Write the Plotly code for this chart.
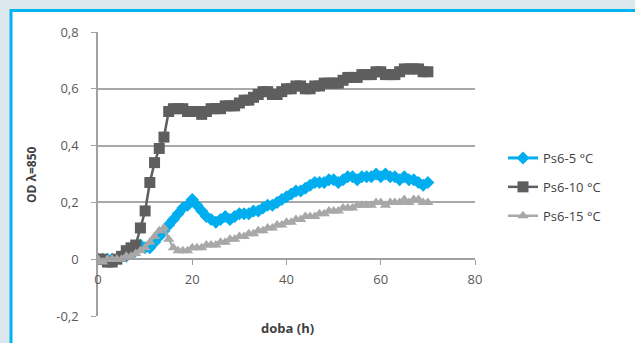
import plotly.graph_objects as go

# Growth curves of Ps6 at three temperatures (optical density over time)
hours = list(range(0, 71))

ps6_5 = [
    0.00, 0.00, 0.00, 0.00, 0.00, 0.01, 0.01, 0.02, 0.03, 0.05,
    0.04, 0.04, 0.06, 0.08, 0.10, 0.12, 0.14, 0.16, 0.18, 0.19,
    0.21, 0.19, 0.17, 0.15, 0.14, 0.13, 0.14, 0.15, 0.14, 0.15,
    0.16, 0.16, 0.16, 0.17, 0.17, 0.18, 0.19, 0.19, 0.20, 0.21,
    0.22, 0.23, 0.24, 0.24, 0.25, 0.26, 0.27, 0.27, 0.27, 0.28,
    0.28, 0.27, 0.28, 0.29, 0.29, 0.28, 0.29, 0.29, 0.29, 0.30,
    0.29, 0.30, 0.29, 0.29, 0.28, 0.29, 0.28, 0.28, 0.27, 0.26,
    0.27,
]

ps6_10 = [
    0.00, 0.00, -0.01, -0.01, 0.00, 0.01, 0.03, 0.04, 0.05, 0.11,
    0.17, 0.27, 0.34, 0.39, 0.43, 0.52, 0.53, 0.53, 0.53, 0.52,
    0.52, 0.52, 0.51, 0.52, 0.53, 0.53, 0.53, 0.54, 0.54, 0.54,
    0.55, 0.56, 0.56, 0.57, 0.58, 0.59, 0.59, 0.58, 0.58, 0.59,
    0.60, 0.60, 0.61, 0.61, 0.60, 0.60, 0.61, 0.61, 0.62, 0.62,
    0.62, 0.62, 0.63, 0.64, 0.64, 0.64, 0.65, 0.65, 0.65, 0.66,
    0.66, 0.65, 0.65, 0.65, 0.66, 0.67, 0.67, 0.67, 0.67, 0.66,
    0.66,
]

ps6_15 = [
    0.00, -0.01, 0.00, 0.00, 0.00, 0.00, 0.01, 0.01, 0.02, 0.03,
    0.04, 0.06, 0.08, 0.10, 0.11, 0.07, 0.04, 0.03, 0.03, 0.03,
    0.04, 0.04, 0.04, 0.05, 0.05, 0.05, 0.06, 0.06, 0.07, 0.07,
    0.08, 0.08, 0.09, 0.09, 0.10, 0.10, 0.11, 0.11, 0.12, 0.12,
    0.13, 0.13, 0.14, 0.14, 0.15, 0.15, 0.15, 0.16, 0.16, 0.17,
    0.17, 0.17, 0.18, 0.18, 0.18, 0.19, 0.19, 0.19, 0.19, 0.20,
    0.20, 0.19, 0.20, 0.20, 0.20, 0.21, 0.20, 0.21, 0.21, 0.20,
    0.20,
]

y_ticks = [-0.2, 0, 0.2, 0.4, 0.6, 0.8]
y_tick_labels = ["-0,2", "0", "0,2", "0,4", "0,6", "0,8"]
x_ticks = [0, 20, 40, 60, 80]
x_tick_labels = ["0", "20", "40", "60", "80"]

series = [
    ("Ps6-5 °C", ps6_5, "#00aeef", "diamond", 10, 3),
    ("Ps6-10 °C", ps6_10, "#5e5e5e", "square", 11, 2.5),
    ("Ps6-15 °C", ps6_15, "#a8a8a8", "triangle-up", 10, 2.5),
]

FONT = "Open Sans"
TEXT = "#595959"

fig = go.Figure()
for i, (name, vals, color, sym, size, lw) in enumerate(series):
    fig.add_trace(go.Scatter(
        x=hours, y=vals, name=name, mode="lines+markers",
        line=dict(color=color, width=lw),
        marker=dict(symbol=sym, size=size, color=color, line=dict(width=0)),
        legendgroup=f"g{i}",
    ))

# plot area in pixels: x 98..475, y 32..316
L, R, T, B = 98, 160, 32, 27
W, H = 635, 343
pw, ph = W - L - R, H - T - B


def px_x(p):
    return (p - L) / pw


def px_y(p):
    return (H - B - p) / ph


fig.update_layout(
    width=W, height=H,
    margin=dict(l=L, r=R, t=T, b=B, pad=0),
    paper_bgcolor="#dde8ee",
    plot_bgcolor="rgba(0,0,0,0)",
    separators=", ",
    font=dict(family=FONT, size=13, color=TEXT),
    showlegend=True,
    legend=dict(
        x=px_x(503), y=px_y(143), xanchor="left", yanchor="top",
        bgcolor="rgba(0,0,0,0)", font=dict(size=13, color="#404040"),
        traceorder="grouped", tracegroupgap=9, itemwidth=30,
    ),
    xaxis=dict(
        range=[0, 80], tickvals=x_ticks, ticktext=x_tick_labels,
        showgrid=False, zeroline=False,
        showline=True, linecolor="#a0a0a0", linewidth=1.5,
        ticks="outside", ticklen=5, tickcolor="#a0a0a0",
        anchor="free", position=0.2, ticklabelstandoff=3,
        tickfont=dict(size=13, color=TEXT),
    ),
    yaxis=dict(
        range=[-0.2, 0.8], tickvals=y_ticks, ticktext=y_tick_labels,
        showgrid=True, gridcolor="#a8a8a8", gridwidth=1.5, zeroline=False,
        showline=True, linecolor="#a0a0a0", linewidth=1.5,
        ticks="outside", ticklen=5, tickcolor="#a0a0a0",
        ticklabelstandoff=10,
        tickfont=dict(size=13, color=TEXT),
    ),
    shapes=[
        dict(type="rect", xref="paper", yref="paper", layer="below",
             x0=px_x(11), x1=px_x(650), y0=px_y(360), y1=px_y(10.5),
             line=dict(color="#00b4f0", width=3), fillcolor="white"),
    ],
    annotations=[
        dict(text="<b>OD λ=850</b>", xref="paper", yref="paper",
             x=px_x(31), y=px_y(175), textangle=-90, showarrow=False,
             xanchor="center", yanchor="middle",
             font=dict(size=12, color="#404040")),
        dict(text="<b>doba (h)</b>", xref="paper", yref="paper",
             x=px_x(287), y=px_y(328), showarrow=False,
             xanchor="center", yanchor="middle",
             font=dict(size=13, color="#404040")),
    ],
)

fig.write_html("out.html")
